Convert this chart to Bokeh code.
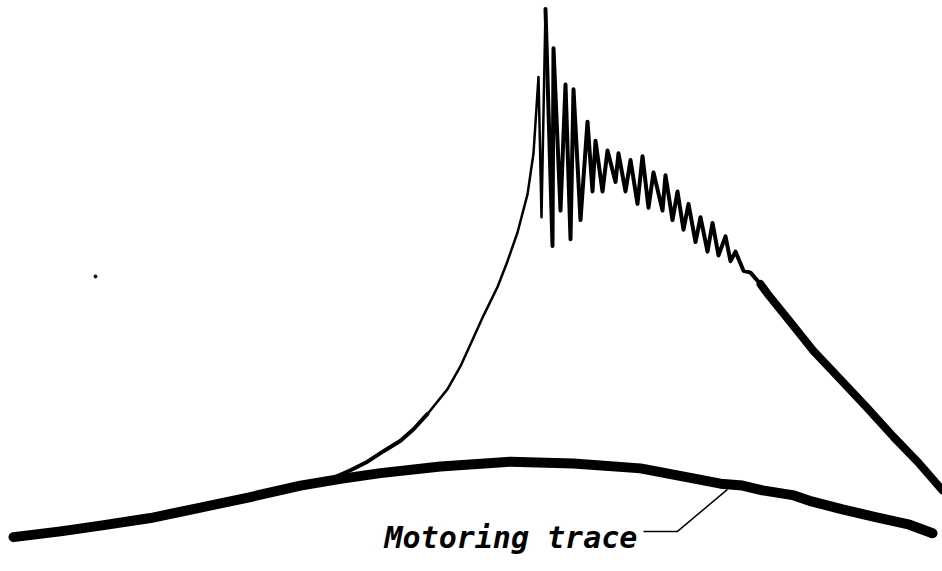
from bokeh.plotting import figure
from bokeh.models import Range1d
from bokeh.core.properties import value
from bokeh.embed import file_html
from bokeh.resources import INLINE

# Motoring trace (crank position, pressure) in chart units
motor_x = [13, 60, 100, 150, 200, 250, 300, 340, 380, 440, 510, 573, 640, 690, 720, 742, 762, 792, 809, 842, 875, 909, 932]
motor_y = [9, 15, 21, 29, 40, 51, 63, 70, 76, 83, 88, 86, 81, 71, 65, 63, 58, 53, 47, 38, 30, 22, 13]

# Firing trace: compression rise (lower, heavier part)
rise_lo_x = [300, 318, 333, 350, 367, 383, 400, 413, 427]
rise_lo_y = [64, 67, 71, 79, 88, 99, 110, 122, 138]

# Firing trace: combustion rise (upper, thin part)
rise_hi_x = [427, 447, 460, 470, 483, 497, 507, 517, 527, 533, 538, 541, 545]
rise_hi_y = [138, 164, 188, 211, 241, 271, 298, 328, 368, 411, 491, 344, 562]

# Firing trace: knock oscillations after peak
osc_x = [545, 552, 553, 560, 565, 570, 573, 580, 587, 592, 595, 602, 607, 615, 618, 625, 630, 637, 642, 648,
         653, 662, 665, 672, 677, 683, 688, 695, 700, 707, 712, 718, 725, 730, 735, 743, 750, 760]
osc_y = [562, 314, 521, 351, 483, 321, 478, 341, 444, 371, 424, 371, 414, 381, 411, 371, 404, 358, 408, 354,
         391, 351, 388, 341, 371, 331, 358, 318, 344, 308, 338, 304, 324, 298, 308, 288, 286, 274]

# Firing trace: expansion
exp_x = [760, 767, 787, 813, 840, 867, 893, 917, 942]
exp_y = [274, 264, 238, 204, 174, 144, 114, 88, 58]

# Annotation
label_text = ["Motoring trace"]
label_x = [384]
label_y = [9]
leader_x = [643, 677, 727]
leader_y = [15, 15, 59]

speck_x = [95]
speck_y = [282]

p = figure(width=942, height=571, output_backend="svg", toolbar_location=None,
           x_axis_type=None, y_axis_type=None,
           x_range=Range1d(0, 942), y_range=Range1d(-27, 571), min_border=0)
p.outline_line_color = None
p.background_fill_color = "white"
p.border_fill_color = "white"

p.line(motor_x, motor_y, line_color="black", line_width=10, line_cap="round", line_join="round")
p.line(rise_lo_x, rise_lo_y, line_color="black", line_width=4, line_cap="round", line_join="round")
p.line(rise_hi_x, rise_hi_y, line_color="black", line_width=2.5, line_cap="round", line_join="round")
p.line(osc_x, osc_y, line_color="black", line_width=4, line_cap="round", line_join="round")
p.line(exp_x, exp_y, line_color="black", line_width=8, line_cap="round", line_join="round")
p.line(leader_x, leader_y, line_color="black", line_width=1.5)
p.scatter(speck_x, speck_y, size=3, color="black")

p.text(label_x, label_y, text=label_text, text_font=value("DejaVu Sans Mono"),
       text_font_size="30px", text_font_style="bold italic", text_color="black",
       text_align="left", text_baseline="alphabetic")

open("out.html", "w").write(file_html(p, INLINE))
